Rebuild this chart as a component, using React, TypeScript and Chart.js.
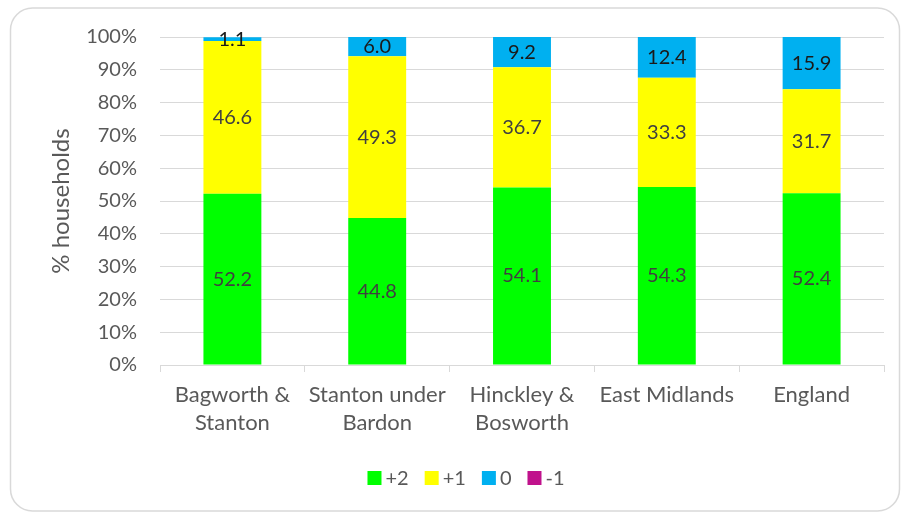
import React, { useEffect, useRef } from "react";
import { Chart, registerables } from "chart.js";

Chart.register(...registerables);

const categories: string[][] = [
  ["Bagworth &", "Stanton"],
  ["Stanton under", "Bardon"],
  ["Hinckley &", "Bosworth"],
  ["East Midlands"],
  ["England"],
];
const plus2 = [52.2, 44.8, 54.1, 54.3, 52.4];
const plus1 = [46.6, 49.3, 36.7, 33.3, 31.7];
const zero = [1.1, 6.0, 9.2, 12.4, 15.9];
const minus1 = [0, 0, 0, 0, 0.1];
const seriesNames = ["+2", "+1", "0", "-1"];
const seriesColors = ["#00FF00", "#FFFF00", "#00B0F0", "#C0128C"];
const yTicks = [0, 10, 20, 30, 40, 50, 60, 70, 80, 90, 100];

const FONT = "Lato, 'Open Sans', sans-serif";

const borderPlugin = {
  id: "outerBorder",
  beforeDraw(chart: any) {
    const ctx = chart.ctx;
    ctx.save();
    ctx.fillStyle = "#ffffff";
    ctx.fillRect(0, 0, chart.width, chart.height);
    ctx.strokeStyle = "#d9d9d9";
    ctx.lineWidth = 1.5;
    ctx.beginPath();
    if ((ctx as any).roundRect) {
      (ctx as any).roundRect(10.5, 8, 889, 503, 22);
    } else {
      ctx.rect(10.5, 8, 889, 503);
    }
    ctx.stroke();
    ctx.restore();
  },
};

const labelPlugin = {
  id: "barLabels",
  afterDatasetsDraw(chart: any) {
    const ctx = chart.ctx;
    ctx.save();
    ctx.font = `20px ${FONT}`;
    ctx.textAlign = "center";
    ctx.textBaseline = "middle";
    for (let d = 0; d < 3; d++) {
      const meta = chart.getDatasetMeta(d);
      const data = chart.data.datasets[d].data as number[];
      meta.data.forEach((el: any, i: number) => {
        const v = data[i];
        if (!v) return;
        const y = (el.y + el.base) / 2;
        ctx.fillStyle = d === 2 ? "#1a1a1a" : "#404040";
        ctx.fillText(v.toFixed(1), el.x, y);
      });
    }
    ctx.restore();
  },
};

const legendPlugin = {
  id: "customLegend",
  afterDraw(chart: any) {
    const ctx = chart.ctx;
    ctx.save();
    ctx.font = `20px ${FONT}`;
    ctx.textBaseline = "middle";
    ctx.textAlign = "left";
    const box = 14;
    const gapText = 4;
    const gapItem = 16;
    const datasets = chart.data.datasets;
    const widths = datasets.map((ds: any) => box + gapText + ctx.measureText(ds.label).width);
    const total = widths.reduce((a: number, b: number) => a + b, 0) + gapItem * (datasets.length - 1);
    let x = 466 - total / 2;
    const cy = 478;
    datasets.forEach((ds: any, i: number) => {
      ctx.fillStyle = ds.backgroundColor;
      ctx.fillRect(x, cy - box / 2, box, box);
      ctx.fillStyle = "#595959";
      ctx.fillText(ds.label, x + box + gapText, cy + 1);
      x += widths[i] + gapItem;
    });
    ctx.restore();
  },
};

export default function App() {
  const ref = useRef<HTMLCanvasElement | null>(null);
  useEffect(() => {
    if (!ref.current) return;
    const chart = new Chart(ref.current, {
      type: "bar",
      data: {
        labels: categories as any,
        datasets: [
          { label: seriesNames[0], data: plus2, backgroundColor: seriesColors[0] },
          { label: seriesNames[1], data: plus1, backgroundColor: seriesColors[1] },
          { label: seriesNames[2], data: zero, backgroundColor: seriesColors[2] },
          { label: seriesNames[3], data: minus1, backgroundColor: seriesColors[3] },
        ],
      },
      options: {
        responsive: false,
        animation: false,
        devicePixelRatio: 1,
        layout: { padding: { left: 0, right: 18, top: 37, bottom: 53 } },
        datasets: { bar: { barPercentage: 0.4, categoryPercentage: 1 } },
        plugins: {
          tooltip: { enabled: false },
          legend: { display: false },
        },
        scales: {
          x: {
            stacked: true,
            afterFit(scale: any) {
              scale.height = 94;
            },
            grid: {
              offset: true,
              drawOnChartArea: false,
              drawTicks: true,
              tickLength: 7,
              color: "#d9d9d9",
            },
            border: { color: "#d9d9d9", width: 1 },
            ticks: {
              color: "#595959",
              padding: 9,
              maxRotation: 0,
              autoSkip: false,
              font: { family: FONT, size: 22, lineHeight: 1.27 },
            },
          },
          y: {
            stacked: true,
            min: 0,
            max: 100,
            afterFit(scale: any) {
              scale.width = 160;
            },
            afterBuildTicks(scale: any) {
              scale.ticks = yTicks.map((v) => ({ value: v }));
            },
            grid: { color: "#d9d9d9", drawTicks: false },
            border: { display: false },
            ticks: {
              color: "#595959",
              padding: 23,
              font: { family: FONT, size: 20 },
              callback: (v: any) => `${v}%`,
            },
            title: {
              display: true,
              text: "% households",
              color: "#595959",
              font: { family: FONT, size: 24 },
              padding: { top: 47, bottom: 0 },
            },
          },
        },
      },
      plugins: [borderPlugin, labelPlugin, legendPlugin],
    });
    return () => chart.destroy();
  }, []);
  return (
    <div style={{ position: "fixed", left: 0, top: 0, width: 902, height: 512 }}>
      <canvas ref={ref} width={902} height={512} style={{ width: 902, height: 512, display: "block" }} />
    </div>
  );
}
